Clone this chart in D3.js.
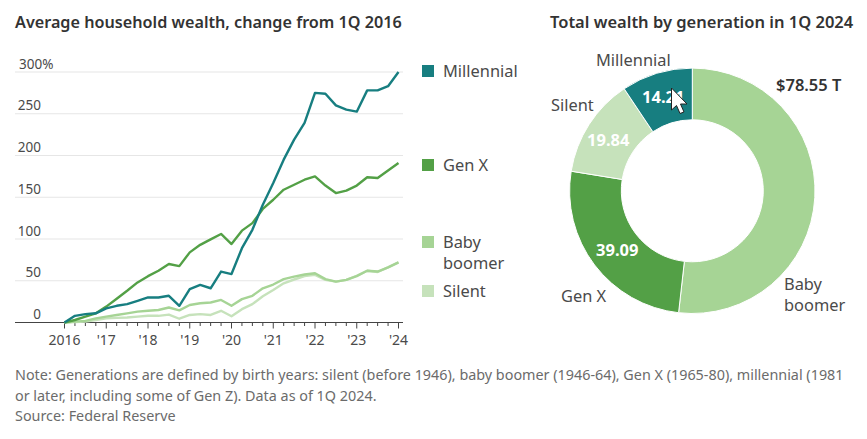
<!DOCTYPE html>
<html><head><meta charset="utf-8">
<script src="https://cdn.jsdelivr.net/npm/d3@7"></script>
<style>
html,body{margin:0;padding:0;background:#fff}
svg{display:block}
text{font-family:"Noto Sans",sans-serif;fill:#4a4a4a}
</style></head><body>
<svg id="c" width="867" height="439"></svg>
<script>
const lineTitle = "Average household wealth, change from 1Q 2016";
const donutTitle = "Total wealth by generation in 1Q 2024";
const yTicks = [0,50,100,150,200,250,300];
const yearLabels = ["2016","'17","'18","'19","'20","'21","'22","'23","'24"];
const millennial = [0,8,10,11,17,20,22,26,30,30,32,20,40,45,41,61,58,89,111,141,167,195,219,239,275,274,260,255,252.5,278,278,283,300];
const genX = [0,3,7,11,19,28.5,38,48,55.5,62,70,67.5,84,93,99.5,106,94,110,119,136,147,159,165,171,175,164,155,158,164,174,173,182,191];
const boomer = [0,1,2,5,7,9,11,13,14,15,18,14.5,21,23,24,27,20,28,32,41,45.5,52,55,57.5,59,52,49,51,55.5,62,61,66,72];
const silent = [0,0.5,1,3,5,5.5,6,7,8,8,9.5,4.5,9,10,9,14,7.5,16,22,31.5,39,47,51.5,55.5,57,51,49,51,56,62,60.5,66,72];
const generations = ["Baby boomer","Gen X","Silent","Millennial"];
const wealth = [78.55,39.09,19.84,14.21];
const wealthLabels = ["$78.55 T","39.09","19.84","14.21"];
const colors = {"Millennial":"#177e80","Gen X":"#53a046","Baby boomer":"#a6d495","Silent":"#c6e2bb"};
const noteLines = ["Note: Generations are defined by birth years: silent (before 1946), baby boomer (1946-64), Gen X (1965-80), millennial (1981","or later, including some of Gen Z). Data as of 1Q 2024.","Source: Federal Reserve"];

const svg = d3.select("#c");
const txt = (x,y,s,o={})=>svg.append("text").attr("x",x).attr("y",y).text(s)
  .attr("font-size",o.size||16).attr("font-weight",o.weight||400)
  .attr("text-anchor",o.anchor||"start").style("fill",o.fill||"#4a4a4a");

txt(15,28,lineTitle,{size:16.2,weight:600,fill:"#333"});
txt(550,28,donutTitle,{size:16.5,weight:600,fill:"#333"});

const x = d3.scaleLinear().domain([0,32]).range([64.5,398.5]);
const y = d3.scaleLinear().domain([0,300]).range([322.5,72]);

svg.append("g").selectAll("line").data(yTicks.filter(d=>d>0)).join("line")
  .attr("x1",15).attr("x2",403).attr("y1",y).attr("y2",y)
  .attr("stroke","#e6e6e6").attr("stroke-width",1.2);
svg.append("g").selectAll("text").data(yTicks).join("text")
  .attr("x",d=>d==300?19:41).attr("y",d=>y(d)-3.5)
  .attr("text-anchor",d=>d==300?"start":"end").attr("font-size",13.5)
  .text(d=>d==300?"300%":d);

const xa = svg.append("g");
xa.append("line").attr("x1",15).attr("x2",403).attr("y1",y(0)).attr("y2",y(0)).attr("stroke","#444").attr("stroke-width",1.2);
xa.selectAll("line.t").data(d3.range(33)).join("line").attr("class","t")
  .attr("x1",x).attr("x2",x).attr("y1",y(0)).attr("y2",d=>y(0)+(d%4==0?6:3.5))
  .attr("stroke","#444").attr("stroke-width",1);
xa.selectAll("text").data(yearLabels).join("text")
  .attr("x",(d,i)=>x(i*4)).attr("y",345).attr("text-anchor","middle").attr("font-size",14).text(d=>d);

const line = d3.line().x((d,i)=>x(i)).y(d=>y(d));
[["Silent",silent],["Baby boomer",boomer],["Gen X",genX],["Millennial",millennial]].forEach(([n,v])=>{
  svg.append("path").attr("d",line(v)).attr("fill","none").attr("stroke",colors[n]).attr("stroke-width",2.4).attr("stroke-linejoin","round");
});

const legend = [["Millennial",71,["Millennial"]],["Gen X",165,["Gen X"]],["Baby boomer",242,["Baby","boomer"]],["Silent",291,["Silent"]]];
legend.forEach(([n,cy,ls])=>{
  svg.append("rect").attr("x",422).attr("y",cy-6).attr("width",12).attr("height",12).attr("fill",colors[n]);
  ls.forEach((l,i)=>txt(443,cy+6+i*21,l,{size:16.4}));
});

const cx=692.3, cy=190.8;
const pie = d3.pie().sort(null)(wealth);
const arc = d3.arc().innerRadius(71).outerRadius(122.7);
const g = svg.append("g").attr("transform",`translate(${cx},${cy})`);
g.selectAll("path").data(pie).join("path").attr("d",arc)
  .attr("fill",(d,i)=>colors[generations[i]]).attr("stroke","#fff").attr("stroke-width",1);

txt(776,91,wealthLabels[0],{size:16.5,weight:600,fill:"#333"});
txt(596,256,wealthLabels[1],{size:16.5,weight:700,fill:"#fff"});
txt(587,146,wealthLabels[2],{size:16.5,weight:700,fill:"#fff"});
txt(642,103,wealthLabels[3],{size:16.5,weight:700,fill:"#fff"});

txt(596,66,"Millennial",{size:16.4});
txt(551,111,"Silent",{size:16.4});
txt(561,302,"Gen X",{size:16.4});
txt(784,290,"Baby",{size:16.4});
txt(784,311,"boomer",{size:16.4});

// mouse pointer captured in the reference screenshot
svg.append("path").attr("d","M671.5,88 L671.5,110 L676.5,105.5 L680,113.5 L684,112 L680.5,104 L687,104 Z")
  .attr("fill","#fff").attr("stroke","#222").attr("stroke-width",1);

noteLines.forEach((l,i)=>txt(15,380+i*20.5,l,{size:14.36,fill:"#6b6b6b"}));
</script></body></html>
